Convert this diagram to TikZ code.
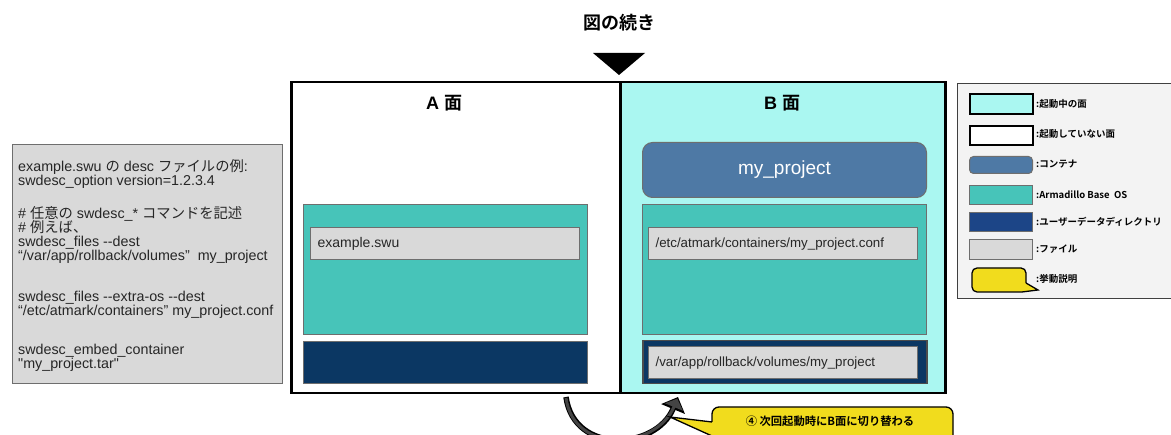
\documentclass[tikz,border=0pt]{standalone}
\usepackage{fontspec}
\setmainfont{Liberation Sans}
\newfontfamily\descfont{Liberation Sans}
\newfontfamily\jpfont{Noto Sans CJK JP}[BoldFont={Noto Sans CJK JP Bold}]
\usetikzlibrary{arrows.meta}
\newcommand\J[1]{{\jpfont #1}}
\newcommand\tightlines{\lineskiplimit=-100pt\relax\lineskip=0pt\relax}
\definecolor{cyanface}{HTML}{AAF7F1}
\definecolor{osteal}{HTML}{47C4B9}
\definecolor{udblue}{HTML}{0B3763}
\definecolor{udlegend}{HTML}{1C4587}
\definecolor{ctblue}{HTML}{4E79A5}
\definecolor{filegray}{HTML}{D9D9D9}
\definecolor{legbg}{HTML}{F3F3F3}
\definecolor{noteyellow}{HTML}{F1DC1D}
\definecolor{edgegray}{HTML}{6E6E6E}
\definecolor{arrowgray}{HTML}{444444}
\tikzset{
  pane/.style={draw=black, line width=2.5pt, anchor=north west, inner sep=0pt},
  panelabel/.style={font=\bfseries\fontsize{18}{18}\selectfont},
  osbox/.style={draw=edgegray, line width=1pt, fill=osteal, anchor=north west, inner sep=0pt},
  udbox/.style={draw=edgegray, line width=1pt, fill=udblue, anchor=north west, inner sep=0pt},
  filebox/.style={draw=edgegray, line width=1.2pt, fill=filegray, anchor=north west,
    text width=255pt, align=left, inner xsep=7pt, inner ysep=0pt, minimum height=32pt,
    font=\descfont\fontsize{13.3}{13.3}\selectfont, text=black!85},
  ctbox/.style={draw=edgegray, line width=1pt, fill=ctblue, rounded corners=10pt, anchor=north west,
    inner sep=0pt, text=white, font=\fontsize{19}{19}\selectfont},
  swatch/.style={anchor=north west, inner sep=0pt, minimum width=63pt},
  leglabel/.style={anchor=west, inner sep=0pt, font=\jpfont\bfseries\fontsize{9.5}{9.5}\selectfont},
  note/.style={fill=noteyellow, draw=black, line width=1.3pt}
}
\begin{document}
\begin{tikzpicture}[x=1pt,y=-1pt]
\useasboundingbox (0,0) rectangle (1171,435);
\clip (0,0) rectangle (1171,435);
\fill[white] (0,0) rectangle (1171,435);

% title and marker
\node[font=\jpfont\bfseries\fontsize{18}{18}\selectfont] (title) at (619,23) {図の続き};
\fill (593,53) -- (645,53) -- (619,75) -- cycle;

% description box
\node[draw=edgegray, line width=1.2pt, fill=filegray, anchor=north west, inner sep=0pt,
  minimum width=270pt, minimum height=239pt] (descbox) at (12,144) {};
\node[anchor=north west, align=left, inner sep=0pt,
  font=\descfont\fontsize{14.3}{14.1}\selectfont\tightlines, text=black!85]
  (desc) at (18,159) {%
  example.swu \J{の} desc \J{ファイルの例}:\\
  swdesc\_option version=1.2.3.4\\[18.8pt]
  \# \J{任意の} swdesc\_* \J{コマンドを記述}\\
  \# \J{例えば、}\\
  swdesc\_files --dest\\
  “/var/app/rollback/volumes”\ \ my\_project\\[27.3pt]
  swdesc\_files --extra-os --dest\\
  “/etc/atmark/containers” my\_project.conf\\[24.2pt]
  swdesc\_embed\_container\\
  "my\_project.tar"};

% panes
\node[pane, fill=cyanface, minimum width=325pt, minimum height=311pt] (paneB) at (619,81) {};
\node[pane, fill=white, minimum width=329pt, minimum height=311pt] (paneA) at (290,81) {};
\node[panelabel] (labA) at (444,103) {A \J{面}};
\node[panelabel] (labB) at (782,103) {B \J{面}};

% A side
\node[osbox, minimum width=284pt, minimum height=130pt] (osA) at (303,204) {};
\node[filebox, font=\descfont\fontsize{14}{14}\selectfont] (fileA) at (310,227) {example.swu};
\node[udbox, minimum width=284pt, minimum height=42pt] (udA) at (303,341) {};

% B side
\node[ctbox, minimum width=284pt, minimum height=55pt] (ctB) at (642,142) {my\_project};
\node[osbox, minimum width=284pt, minimum height=130pt] (osB) at (642,204) {};
\node[filebox] (fileB) at (648,227) {/etc/atmark/containers/my\_project.conf};
\node[udbox, draw=black!70, line width=1.5pt, minimum width=284pt, minimum height=43pt] (udB) at (642,340) {};
\node[filebox] (fileC) at (648,346) {/var/app/rollback/volumes/my\_project};

% legend
\node[draw=black!75, line width=1pt, fill=legbg, anchor=north west, inner sep=0pt,
  minimum width=230pt, minimum height=215pt] (legend) at (957,83) {};
\node[swatch, draw=black, line width=2pt, fill=cyanface, minimum height=20pt] (sw1) at (969,93) {};
\node[leglabel] (lb1) at (1036,104) {:起動中の面};
\node[swatch, draw=black, line width=2pt, fill=white, minimum height=19pt] (sw2) at (969,125) {};
\node[leglabel] (lb2) at (1036,134) {:起動していない面};
\node[swatch, draw=edgegray, line width=1pt, fill=ctblue, rounded corners=4pt, minimum height=17pt] (sw3) at (969,156) {};
\node[leglabel] (lb3) at (1036,164) {:コンテナ};
\node[swatch, draw=edgegray, line width=1pt, fill=osteal, minimum height=19pt] (sw4) at (969,185) {};
\node[leglabel] (lb4) at (1036,195) {:Armadillo Base\ \ OS};
\node[swatch, draw=edgegray, line width=1pt, fill=udlegend, minimum height=19pt] (sw5) at (969,212) {};
\node[leglabel] (lb5) at (1036,222) {:ユーザーデータディレクトリ};
\node[swatch, draw=edgegray, line width=1pt, fill=filegray, minimum height=20pt] (sw6) at (969,239) {};
\node[leglabel] (lb6) at (1036,249) {:ファイル};
\draw[note] (1026,283) -- (1038,290) -- (1022,292) [rounded corners=5pt] -- (972,292) -- (972,268) -- (1026,268) -- (1026,283);
\node[leglabel] (lb7) at (1036,279) {:挙動説明};

% switching arrow
\coordinate (arrS) at (566,397);
\coordinate (arrE) at (678,397);
\draw[line width=5.5pt, black, -{Triangle[width=25pt,length=13pt]}]
  (arrS) .. controls (574,455) and (656,450) .. (arrE);
\draw[line width=3pt, arrowgray, shorten >=1.8pt, -{Triangle[width=19pt,length=9pt]}]
  (arrS) ++(0,1) .. controls (574,455) and (656,450) .. (arrE);

% note callout
\draw[note] (712,422) -- (670,417) -- (712,436) [rounded corners=7pt] -- (712,460) -- (953,460) -- (953,407) -- (712,407) -- (712,422);
\node[font=\jpfont\bfseries\fontsize{11.3}{11.3}\selectfont] (notetext) at (830,421) {④ 次回起動時にB面に切り替わる};
\end{tikzpicture}
\end{document}
